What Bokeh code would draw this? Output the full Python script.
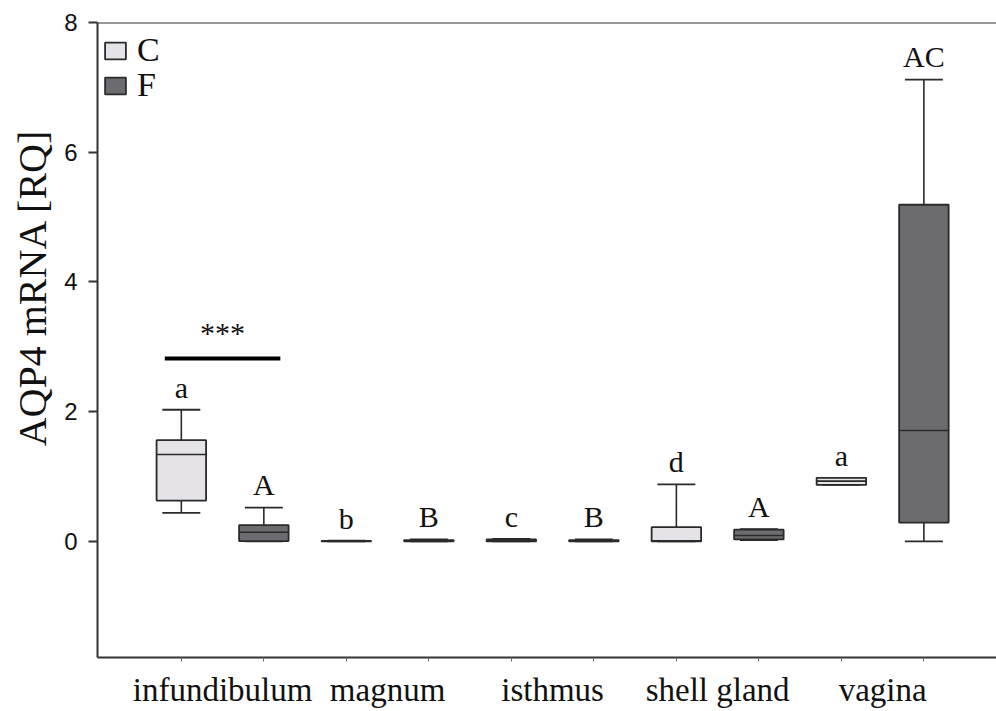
from bokeh.plotting import figure
from bokeh.models import Range1d, FixedTicker, Span, Title, Legend, LegendItem, ColumnDataSource
from bokeh.core.properties import value
from bokeh.embed import file_html
from bokeh.resources import INLINE

categories = ["infundibulum", "magnum", "isthmus", "shell gland", "vagina"]

# Group C (control) box statistics
C_low = [0.44, 0.0, 0.0, 0.0, 0.87]
C_q1 = [0.63, 0.0, 0.0, 0.0, 0.87]
C_med = [1.34, 0.002, 0.01, 0.01, 0.93]
C_q3 = [1.56, 0.006, 0.03, 0.22, 0.98]
C_high = [2.03, 0.01, 0.04, 0.88, 0.98]
C_letters = ["a", "b", "c", "d", "a"]

# Group F box statistics
F_low = [0.0, 0.0, 0.0, 0.02, 0.0]
F_q1 = [0.005, 0.0, 0.0, 0.03, 0.29]
F_med = [0.14, 0.01, 0.01, 0.09, 1.71]
F_q3 = [0.25, 0.02, 0.02, 0.18, 5.19]
F_high = [0.52, 0.03, 0.03, 0.19, 7.12]
F_letters = ["A", "B", "B", "A", "AC"]

y_ticks = [0, 2, 4, 6, 8]
signif_text = "***"
signif_y = 2.82

C_FILL = "#e5e2e8"
F_FILL = "#6c6b70"
LINE = "#2a2a2a"
SERIF = "Liberation Serif"

p = figure(width=996, height=711, output_backend="svg", toolbar_location=None,
           x_range=Range1d(-0.758, 4.69), y_range=Range1d(-1.79, 8),
           min_border_left=97, min_border_right=0, min_border_top=22, min_border_bottom=54)
p.outline_line_color = None
p.grid.visible = False

off = 0.25
bw = 0.30
cw = 0.23
letter_gap = 0.35

renderers = {}
for name, low, q1, med, q3, high, sign, fill, letters in [
        ("C", C_low, C_q1, C_med, C_q3, C_high, -1, C_FILL, C_letters),
        ("F", F_low, F_q1, F_med, F_q3, F_high, 1, F_FILL, F_letters)]:
    xs = [i + sign * off for i in range(len(categories))]
    src = ColumnDataSource(dict(x=xs, x0=[x - cw / 2 for x in xs], x1=[x + cw / 2 for x in xs],
                                bx0=[x - bw / 2 for x in xs], bx1=[x + bw / 2 for x in xs],
                                low=low, q1=q1, med=med, q3=q3, high=high,
                                ty=[h + letter_gap for h in high], letters=letters))
    p.segment(x0="x", y0="q3", x1="x", y1="high", source=src, line_color=LINE, line_width=1.6)
    p.segment(x0="x", y0="low", x1="x", y1="q1", source=src, line_color=LINE, line_width=1.6)
    p.segment(x0="x0", y0="high", x1="x1", y1="high", source=src, line_color=LINE, line_width=1.8)
    p.segment(x0="x0", y0="low", x1="x1", y1="low", source=src, line_color=LINE, line_width=1.8)
    r = p.vbar(x="x", width=bw, bottom="q1", top="q3", source=src, fill_color=fill,
               line_color=LINE, line_width=1.8)
    p.segment(x0="bx0", y0="med", x1="bx1", y1="med", source=src, line_color=LINE, line_width=1.6)
    p.text(x="x", y="ty", text="letters", source=src, text_font=value(SERIF),
           text_font_size="30px", text_align="center", text_baseline="alphabetic", text_color="#111")
    renderers[name] = r

# significance bar over infundibulum
p.segment(x0=[-0.35], y0=[signif_y], x1=[0.35], y1=[signif_y], line_color="#000", line_width=4)
p.text(x=[0.0], y=[signif_y + 0.14], text=[signif_text], text_font=value(SERIF),
       text_font_size="30px", text_align="center", text_baseline="bottom", text_color="#111")

# top spine
p.add_layout(Span(location=8, dimension="width", line_color="#333", line_width=2))

# axes
xa = p.xaxis[0]
xa.ticker = FixedTicker(ticks=list(range(len(categories))),
                        minor_ticks=[i + s * off for i in range(len(categories)) for s in (-1, 1)])
xa.major_label_overrides = {i: c for i, c in enumerate(categories)}
xa.major_tick_out = 0
xa.major_tick_in = 0
xa.minor_tick_out = 4
xa.minor_tick_in = 0
xa.minor_tick_line_color = "#666"
xa.axis_line_color = "#333"
xa.axis_line_width = 2
xa.major_label_text_font = SERIF
xa.major_label_text_font_size = "33px"
xa.major_label_text_color = "#111"
xa.major_label_standoff = 10

ya = p.yaxis[0]
ya.ticker = FixedTicker(ticks=y_ticks, minor_ticks=[])
ya.major_tick_out = 9
ya.major_tick_in = 0
ya.major_tick_line_color = "#333"
ya.major_tick_line_width = 2
ya.axis_line_color = "#333"
ya.axis_line_width = 2
ya.major_label_text_font = "Liberation Sans"
ya.major_label_text_font_size = "24px"
ya.major_label_text_color = "#111"
ya.major_label_standoff = 11

p.add_layout(Title(text="AQP4 mRNA [RQ]", align="right", offset=106, text_font=SERIF,
                   text_font_size="40px", text_font_style="normal", text_color="#111",
                   standoff=13), "left")

legend_kw = dict(margin=0, padding=0, spacing=0, glyph_width=26, glyph_height=21,
                 label_height=34, label_standoff=9, label_text_font=SERIF,
                 label_text_font_size="34px", label_text_color="#111",
                 border_line_color=None, background_fill_alpha=0)
p.add_layout(Legend(items=[LegendItem(label="C", renderers=[renderers["C"]])],
                    location=(5, 588), **legend_kw))
p.add_layout(Legend(items=[LegendItem(label="F", renderers=[renderers["F"]])],
                    location=(5, 553), **legend_kw))

open("out.html", "w").write(file_html(p, INLINE))
